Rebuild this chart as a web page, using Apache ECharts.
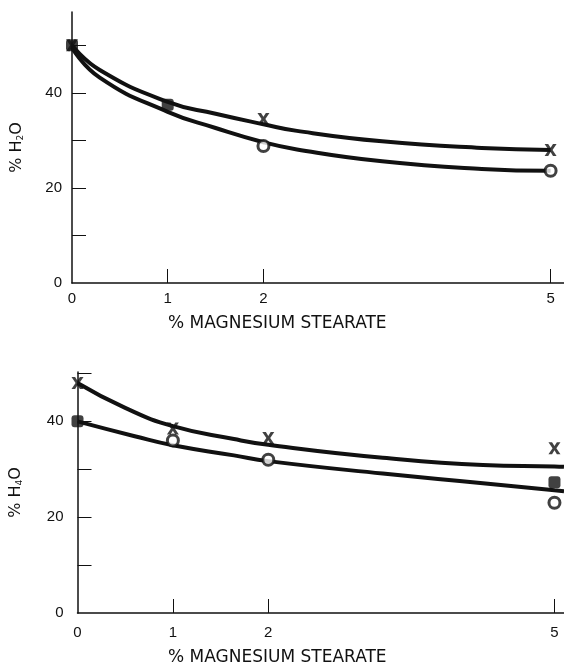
<!DOCTYPE html>
<html>
<head>
<meta charset="utf-8">
<script src="https://cdn.jsdelivr.net/npm/echarts@6/dist/echarts.min.js"></script>
<style>
  html, body { margin: 0; padding: 0; background: #fff; }
  #chart { width: 564px; height: 666px; }
</style>
</head>
<body>
<div id="chart"></div>
<script>
// Water content (% H2O) against % magnesium stearate, two panels.
const xTickValues = [0, 1, 2, 5];
const yLabelValues = [0, 20, 40];
const yTickValues = [10, 20, 30, 40, 50];
const xTitle = '% MAGNESIUM STEARATE';

// Upper panel: measured points
const topCross = [[0, 50], [2, 34.5], [5, 28]];
const topCircle = [[2, 28.8], [5, 23.6]];
const topBoth = [[0, 50], [1, 37.5]];
// Upper panel: fitted curves
const topCrossFit = [[0, 50], [0.29, 44.8], [1, 38.1], [1.5, 35.6], [2, 33.4], [2.35, 32], [3.24, 29.8], [4.28, 28.4], [5, 28]];
const topCircleFit = [[0, 49.5], [0.29, 43.2], [1, 36], [1.5, 32.6], [2, 29.6], [2.35, 28.1], [3.24, 25.6], [4.28, 24], [5, 23.6]];

// Lower panel: measured points
const botCross = [[0, 48], [1, 38.5], [2, 36.5], [5, 34.4]];
const botCircle = [[1, 36], [2, 32], [5, 23]];
const botBoth = [[0, 40], [5, 27.3]];
// Lower panel: fitted curves
const botCrossFit = [[0, 48], [0.5, 42.8], [1, 39], [1.64, 36.3], [2, 35.1], [3.2, 32.4], [4.25, 30.9], [5, 30.6], [5.1, 30.5]];
const botCircleFit = [[0, 40], [0.6, 36.9], [1, 35], [1.64, 32.9], [2, 31.7], [3.2, 29.1], [4.25, 27.1], [5, 25.6], [5.1, 25.4]];

const INK = '#111';
const crossPath = 'path://M0,0 L3,0 L5,3.2 L7,0 L10,0 L6.6,5 L10,10 L7,10 L5,6.8 L3,10 L0,10 L3.4,5 Z';

function xAxisOpt(gridIndex, max, margin) {
  return {
    type: 'value', gridIndex, min: 0, max,
    axisLine: { show: true, onZero: false, lineStyle: { color: INK, width: 1.5 } },
    axisTick: { show: true, inside: true, length: 14, customValues: [1, 2, 5], lineStyle: { color: INK, width: 1 } },
    axisLabel: { customValues: xTickValues, margin, color: INK, fontFamily: 'Liberation Sans', fontSize: 15 },
    splitLine: { show: false }
  };
}

function yAxisOpt(gridIndex, max, margin, sub, nameGap) {
  return {
    type: 'value', gridIndex, min: 0, max,
    name: '% H{s|' + sub + '}O', nameLocation: 'middle', nameRotate: 90, nameGap,
    nameTextStyle: {
      color: INK, fontFamily: 'DejaVu Sans', fontSize: 16,
      rich: { s: { fontSize: 9, color: INK, fontFamily: 'DejaVu Sans', padding: [8, 0, 0, 0] } }
    },
    axisLine: { show: true, lineStyle: { color: INK, width: 1.5 } },
    axisTick: { show: true, inside: true, length: 14, customValues: yTickValues, lineStyle: { color: INK, width: 1 } },
    axisLabel: { customValues: yLabelValues, margin, color: INK, fontFamily: 'Liberation Sans', fontSize: 15 },
    splitLine: { show: false }
  };
}

function fitLine(idx, data) {
  return {
    type: 'line', xAxisIndex: idx, yAxisIndex: idx, data, smooth: 0.5,
    symbol: 'none', lineStyle: { color: INK, width: 4 }, z: 2, silent: true
  };
}
function crosses(idx, data) {
  return {
    type: 'scatter', xAxisIndex: idx, yAxisIndex: idx, data, symbol: crossPath,
    symbolSize: 12, itemStyle: { color: INK }, z: 4
  };
}
function circles(idx, data) {
  return {
    type: 'scatter', xAxisIndex: idx, yAxisIndex: idx, data, symbol: 'circle',
    symbolSize: 11, itemStyle: { color: '#fff', borderColor: INK, borderWidth: 3 }, z: 4
  };
}
function filled(idx, data) {
  return {
    type: 'scatter', xAxisIndex: idx, yAxisIndex: idx, data, symbol: 'roundRect',
    symbolSize: 12, itemStyle: { color: INK }, z: 3
  };
}

const chart = echarts.init(document.getElementById('chart'), null, { renderer: 'canvas' });
chart.setOption({
  backgroundColor: '#fff',
  animation: false,
  grid: [
    { left: 72, top: 12, width: 492, height: 271 },
    { left: 76, top: 372, width: 488, height: 241 }
  ],
  xAxis: [xAxisOpt(0, 5.14, 8), xAxisOpt(1, 5.1, 12)],
  yAxis: [yAxisOpt(0, 57, 10, '2', 47), yAxisOpt(1, 50.3, 14, '4', 53)],
  graphic: [
    { type: 'text', left: 168, top: 315, style: { text: xTitle, fill: INK, font: '17px "DejaVu Sans"' } },
    { type: 'text', left: 168, top: 649, style: { text: xTitle, fill: INK, font: '17px "DejaVu Sans"' } }
  ],
  series: [
    fitLine(0, topCrossFit), fitLine(0, topCircleFit),
    filled(0, topBoth), crosses(0, topCross), circles(0, topCircle),
    fitLine(1, botCrossFit), fitLine(1, botCircleFit),
    filled(1, botBoth), crosses(1, botCross), circles(1, botCircle)
  ]
});
</script>
</body>
</html>
